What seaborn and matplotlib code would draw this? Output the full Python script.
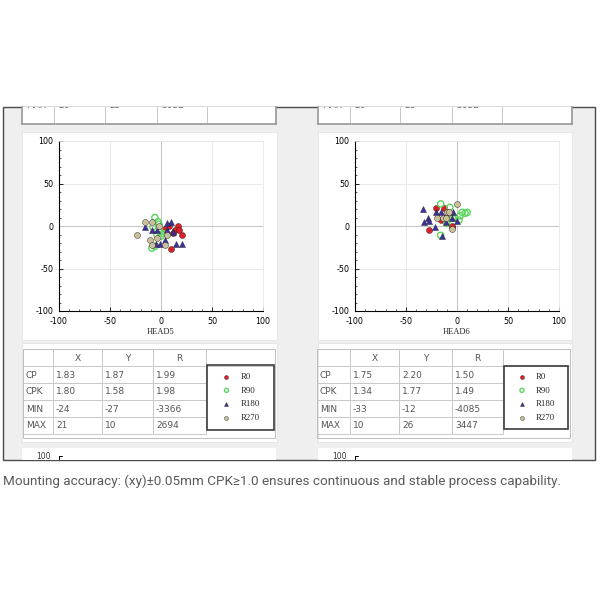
import pandas as pd
import seaborn as sns
import matplotlib.pyplot as plt
from matplotlib.patches import Rectangle
from matplotlib.lines import Line2D
from matplotlib.ticker import MultipleLocator

# HEAD5 placement offsets per nozzle angle
H5_R0_X = [8, 17, 21, 10, 14, 12, 4, 18]
H5_R0_Y = [0, 0, -10, -27, -5, -8, -3, -5]
H5_R90_X = [-6, -3, -9, -6, -4, -1, 2, -8, -2, 0]
H5_R90_Y = [10, 5, -26, -24, -10, -7, -9, -1, 2, -12]
H5_R180_X = [-16, 10, -5, -1, 15, 21, -9, -4, 6, 4, 6, 12]
H5_R180_Y = [-1, 5, -21, -21, -21, -21, -5, -5, -5, -16, 3, -7]
H5_R270_X = [-24, -16, -11, -9, 4, -4, 6, -9, -2]
H5_R270_Y = [-11, 5, -16, -22, -22, -14, -10, 5, 0]

# HEAD6 placement offsets per nozzle angle
H6_R0_X = [-21, -27, -5, -13, -16, -11, -5]
H6_R0_Y = [21, -5, -1, 21, 7, 11, 0]
H6_R90_X = [-16, -16, 5, 8, 2, -7, 10, -10, -4, 3]
H6_R90_Y = [26, -11, 16, 15, 7, 22, 16, 3, 9, 12]
H6_R180_X = [-33, -32, -28, -27, -21, -16, -4, -11, -22, -15, 0, -5]
H6_R180_Y = [20, 5, 10, 6, 16, 16, 16, 5, -1, -12, 6, 10]
H6_R270_X = [0, -5, -14, -10, -20, -8, -11]
H6_R270_Y = [26, -4, 9, 16, 10, 16, 10]

STAT_ROWS = ["CP", "CPK", "MIN", "MAX"]
STAT_COLS = ["X", "Y", "R"]
H5_STATS = [["1.83", "1.87", "1.99"], ["1.80", "1.58", "1.98"],
            ["-24", "-27", "-3366"], ["21", "10", "2694"]]
H6_STATS = [["1.75", "2.20", "1.50"], ["1.34", "1.77", "1.49"],
            ["-33", "-12", "-4085"], ["10", "26", "3447"]]

NOZZLES = ["R0", "R90", "R180", "R270"]
COLORS = {"R0": "#dc2027", "R90": "#5cd65c", "R180": "#3b2f9e", "R270": "#c9bf98"}
MARKERS = {"R0": "o", "R90": "o", "R180": "^", "R270": "o"}

CAPTION = "Mounting accuracy: (xy)\u00b10.05mm CPK\u22651.0 ensures continuous and stable process capability."


def frame(xs, ys):
    rows = []
    for nz, x, y in zip(NOZZLES, xs, ys):
        for a, b in zip(x, y):
            rows.append({"nozzle": nz, "x": a, "y": b})
    return pd.DataFrame(rows)


h5 = frame([H5_R0_X, H5_R90_X, H5_R180_X, H5_R270_X], [H5_R0_Y, H5_R90_Y, H5_R180_Y, H5_R270_Y])
h6 = frame([H6_R0_X, H6_R90_X, H6_R180_X, H6_R270_X], [H6_R0_Y, H6_R90_Y, H6_R180_Y, H6_R270_Y])

sns.set_theme(style="white")
plt.rcParams["font.family"] = ["DejaVu Sans"]
plt.rcParams["axes.unicode_minus"] = False

fig = plt.figure(figsize=(6, 6), dpi=100)
W = H = 600.0


def rect(x0, y0, x1, y1, fc, ec="none", lw=0.8, z=-1):
    fig.add_artist(Rectangle((x0 / W, 1 - y1 / H), (x1 - x0) / W, (y1 - y0) / H,
                             transform=fig.transFigure, fc=fc, ec=ec, lw=lw, zorder=z))


def line(x0, y0, x1, y1, color="#c8c8c8", lw=0.7, z=1):
    fig.add_artist(Line2D([x0 / W, x1 / W], [1 - y0 / H, 1 - y1 / H],
                          transform=fig.transFigure, color=color, lw=lw, zorder=z))


def text(x, y, s, **kw):
    fig.text(x / W, 1 - y / H, s, va="center", **kw)


def axes_px(x0, y0, x1, y1):
    return fig.add_axes([x0 / W, 1 - y1 / H, (x1 - x0) / W, (y1 - y0) / H])


# gray window panel
rect(3, 107, 595, 460, "#efefef", "#4a4a4a", 1.0, z=-3)


def remnant_top(x0, cols, vals):
    ax = axes_px(x0, 107, x0 + 254, 124)
    ax.set_xlim(0, 254)
    ax.set_ylim(17, 0)
    ax.set_facecolor("white")
    ax.set_xticks([])
    ax.set_yticks([])
    for s in ax.spines.values():
        s.set_color("#9a9a9a")
    ax.spines["top"].set_visible(False)
    for c in cols:
        ax.axvline(c, color="#c8c8c8", lw=0.7)
    xs = [4] + [c + 4 for c in cols[:3]]
    for x, v in zip(xs, vals):
        ax.text(x, -1.5, v, fontsize=6.5, color="#666", va="center", clip_on=True)


def remnant_bottom(x0, spine_x):
    ax = axes_px(x0, 448, x0 + 254, 460)
    ax.set_xlim(0, 254)
    ax.set_ylim(12, 0)
    ax.set_facecolor("white")
    ax.set_xticks([])
    ax.set_yticks([])
    for s in ax.spines.values():
        s.set_visible(False)
    ax.text(spine_x - 8, 8.5, "100", fontsize=5.5, color="#333", ha="right", va="center", clip_on=True)
    ax.plot([spine_x, spine_x], [8, 12], color="black", lw=0.7)
    ax.plot([spine_x, spine_x + 3], [8, 8], color="black", lw=0.7)


remnant_top(22, [32, 83, 135, 185], ["MAX", "20", "25", "3032"])
remnant_top(318, [32, 82, 134, 184], ["MAX", "20", "26", "3052"])
remnant_bottom(22, 37)
remnant_bottom(318, 37)


def draw_head(box, axbox, df, name, stats, cols, rows, legbox):
    # white cards
    rect(box[0], 132, box[1], 340, "white", "#e4e4e4", 0.6)
    rect(box[0], 343, box[1], 442, "white", "#e4e4e4", 0.6)

    ax = axes_px(axbox[0], 141, axbox[1], 311)
    ax.set_facecolor("white")
    for nz in NOZZLES:
        sub = df[df["nozzle"] == nz]
        if nz == "R90":
            sns.scatterplot(data=sub, x="x", y="y", ax=ax, color=COLORS[nz], marker="o", s=20,
                            facecolors="none", edgecolor=COLORS[nz], linewidth=1.0,
                            legend=False, label=nz, zorder=3)
        else:
            sns.scatterplot(data=sub, x="x", y="y", ax=ax, color=COLORS[nz], marker=MARKERS[nz], s=19,
                            edgecolor="#222222", linewidth=0.3, legend=False, label=nz, zorder=3)
    ax.set_xlim(-100, 100)
    ax.set_ylim(-100, 100)
    ticks = [-100, -50, 0, 50, 100]
    ax.set_xticks(ticks)
    ax.set_yticks(ticks)
    ax.xaxis.set_minor_locator(MultipleLocator(10))
    ax.yaxis.set_minor_locator(MultipleLocator(10))
    ax.grid(True, which="major", color="#e6e6e6", lw=0.6)
    ax.axhline(0, color="#c4c4c4", lw=0.7, zorder=1)
    ax.axvline(0, color="#c4c4c4", lw=0.7, zorder=1)
    ax.tick_params(which="major", direction="in", length=3, width=0.6, labelsize=5.8,
                   colors="black", pad=4, left=True, bottom=True)
    ax.tick_params(which="minor", direction="in", length=1.6, width=0.5, left=True, bottom=True)
    for side in ["left", "bottom"]:
        ax.spines[side].set_color("black")
        ax.spines[side].set_linewidth(0.8)
    for side in ["top", "right"]:
        ax.spines[side].set_color("#e6e6e6")
        ax.spines[side].set_linewidth(0.6)
    ax.set_xlabel(name, fontsize=6, family="Liberation Serif", labelpad=2, color="#222")
    ax.set_ylabel("")

    # stats table
    x0, x1 = cols[0], cols[-1]
    y0, y1 = rows[0], rows[-1] + 4
    rect(x0, y0, x1, y1, "none", "#bdbdbd", 0.7, z=1)
    for c in cols[1:-1]:
        line(c, y0, c, rows[-1])
    for r in rows[1:]:
        line(x0, r, cols[-2], r)
    line(cols[-2], rows[1], x1, rows[1])
    for j, lab in enumerate(STAT_COLS):
        text((cols[j + 1] + cols[j + 2]) / 2, (rows[0] + rows[1]) / 2 + 1, lab,
             fontsize=6.5, color="#555", ha="center")
    for i, lab in enumerate(STAT_ROWS):
        yc = (rows[i + 1] + rows[i + 2]) / 2 + 0.5
        text(cols[0] + 3, yc, lab, fontsize=6.5, color="#555")
        for j, v in enumerate(stats[i]):
            text(cols[j + 1] + 3, yc, v, fontsize=6.5, color="#555")

    # legend box
    lx0, ly0, lx1, ly1 = legbox
    rect(lx0, ly0, lx1, ly1, "none", "#3c3c3c", 1.2, z=2)
    handles, labels = ax.get_legend_handles_labels()
    ax.legend(handles, labels, loc="center", bbox_to_anchor=((lx0 + lx1) / 2 / W, 1 - (ly0 + ly1) / 2 / H),
              bbox_transform=fig.transFigure, frameon=False, markerscale=0.65,
              prop={"family": "Liberation Serif", "size": 6.3}, labelspacing=0.65,
              handlelength=1.2, handletextpad=1.0, borderpad=0.3)


draw_head((22, 277), (59, 263), h5, "HEAD5", H5_STATS,
          [23, 53, 102, 153, 206, 275], [349, 366, 383, 400, 417, 434], (207, 365, 274, 430))
draw_head((318, 572), (355, 559), h6, "HEAD6", H6_STATS,
          [317, 350, 399, 452, 503, 570], [349, 366, 383, 400, 417, 434], (504, 366, 568, 429))

text(3, 481, CAPTION, fontsize=9.7, color="#5a5a5a", family=["Roboto", "DejaVu Sans"])

fig.savefig("out.png", dpi=100, facecolor="white")
